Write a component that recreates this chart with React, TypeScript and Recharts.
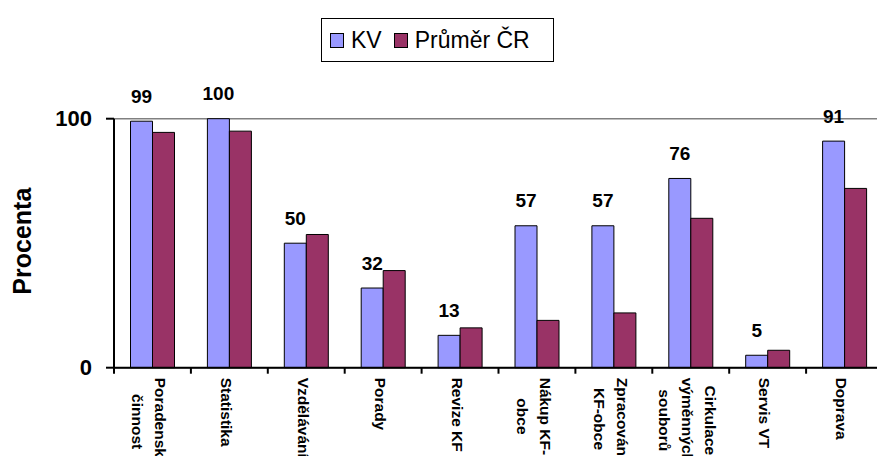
import React from "react";
import { BarChart, Bar, XAxis, YAxis, CartesianGrid, LabelList, Label, Legend } from "recharts";

// categories, "\n" = line break in the rotated axis label
const categories = [
  "Poradenská\nčinnost",
  "Statistika",
  "Vzdělávání",
  "Porady",
  "Revize KF",
  "Nákup KF-\nobce",
  "Zpracování\nKF-obce",
  "Cirkulace\nvýměnných\nsouborů",
  "Servis VT",
  "Doprava",
];
const kv = [99, 100, 50, 32, 13, 57, 57, 76, 5, 91];
const prumerCR = [94.5, 95, 53.5, 39, 16, 19, 22, 60, 7, 72];
const yTicks = [0, 100];

const data = categories.map((name, i) => ({ name, kv: kv[i], cr: prumerCR[i] }));

const FONT = '"Liberation Sans", Arial, sans-serif';
const W = 900;
const H = 456;
const M = { top: 118.7, right: 17, bottom: 0, left: 14 };
const Y_AXIS_W = 100;
const X_AXIS_H = 88.3;
const AXIS_Y = H - M.bottom - X_AXIS_H;
const PLOT_W = W - M.left - M.right - Y_AXIS_W;
const TICK_FONT = `bold 15.5px ${FONT}`;

let ctx: CanvasRenderingContext2D | null = null;
const textW = (s: string) => {
  if (!ctx && typeof document !== "undefined") ctx = document.createElement("canvas").getContext("2d");
  if (!ctx) return s.length * 8.5;
  ctx.font = TICK_FONT;
  return ctx.measureText(s).width;
};

const XTick = (props: any) => {
  const { x, payload, index } = props;
  const bw = PLOT_W / categories.length;
  const lines = String(payload.value).split("\n");
  const n = lines.length;
  const maxW = Math.max(...lines.map(textW));
  const top = AXIS_Y + 10;
  return (
    <g>
      <line x1={x - bw / 2} x2={x - bw / 2} y1={AXIS_Y} y2={AXIS_Y + 6} stroke="#000" strokeWidth={2} />
      {index === categories.length - 1 && (
        <line x1={x + bw / 2} x2={x + bw / 2} y1={AXIS_Y} y2={AXIS_Y + 6} stroke="#000" strokeWidth={2} />
      )}
      <text transform={`rotate(90, ${x}, ${top})`} fontFamily={FONT} fontWeight="bold" fontSize={15.5} fill="#000">
        {lines.map((l, i) => (
          <tspan key={i} x={x + maxW / 2} y={top + 8.5 - ((n - 1) / 2 - i) * 23} textAnchor="middle">
            {l}
          </tspan>
        ))}
      </text>
    </g>
  );
};

const YTick = (props: any) => (
  <text x={props.x} y={props.y} textAnchor="end" dominantBaseline="central" fontFamily={FONT} fontWeight="bold" fontSize={22} fill="#000">
    {props.payload.value}
  </text>
);

const renderValue = (p: any) => (
  <text x={p.x + p.width / 2} y={p.y - 18.5} textAnchor="middle" fontFamily={FONT} fontWeight="bold" fontSize={19} fill="#000">
    {p.value}
  </text>
);

const renderYLabel = (p: any) => {
  const vb = p.viewBox;
  const cx = vb.x + 8.5;
  const cy = vb.y + vb.height / 2 - 2;
  return (
    <text x={cx} y={cy} transform={`rotate(-90, ${cx}, ${cy})`} textAnchor="middle" dominantBaseline="central" fontFamily={FONT} fontWeight="bold" fontSize={25} fill="#000">
      Procenta
    </text>
  );
};

const renderLegend = (props: any) => (
  <div
    style={{
      width: 233,
      height: 44,
      boxSizing: "border-box",
      border: "1.5px solid #000",
      background: "#fff",
      display: "flex",
      alignItems: "center",
      paddingLeft: 8,
      fontFamily: FONT,
      fontSize: 23,
      color: "#000",
    }}
  >
    {(props.payload || []).map((e: any, i: number) => (
      <React.Fragment key={i}>
        <span
          style={{
            display: "inline-block",
            width: 14,
            height: 15,
            boxSizing: "border-box",
            border: "1.5px solid #000",
            background: e.color,
            marginRight: 7,
            marginLeft: i === 0 ? 0 : 12,
          }}
        />
        <span style={{ lineHeight: "23px" }}>{e.value}</span>
      </React.Fragment>
    ))}
  </div>
);

export default function App() {
  return (
    <div style={{ position: "absolute", left: 0, top: 0, width: 877, height: 456, overflow: "hidden", background: "#fff" }}>
      <BarChart width={W} height={H} data={data} margin={M} barCategoryGap={16.5} barGap={0}>
        <CartesianGrid vertical={false} stroke="#808080" strokeWidth={1.5} />
        <XAxis
          dataKey="name"
          interval={0}
          height={X_AXIS_H}
          axisLine={{ stroke: "#000", strokeWidth: 2 }}
          tickLine={false}
          tick={<XTick />}
        />
        <YAxis
          width={Y_AXIS_W}
          domain={[0, 100]}
          ticks={yTicks}
          tickSize={8}
          tickMargin={14}
          axisLine={{ stroke: "#000", strokeWidth: 2 }}
          tickLine={{ stroke: "#000", strokeWidth: 2 }}
          tick={<YTick />}
        >
          <Label content={renderYLabel} />
        </YAxis>
        <Legend
          layout="horizontal"
          verticalAlign="middle"
          align="center"
          content={renderLegend}
          wrapperStyle={{ left: 321, top: 18, width: "auto", height: "auto" }}
        />
        <Bar dataKey="kv" name="KV" fill="#9999FF" stroke="#000" strokeWidth={1} isAnimationActive={false}>
          <LabelList dataKey="kv" content={renderValue} />
        </Bar>
        <Bar dataKey="cr" name="Průměr ČR" fill="#993366" stroke="#000" strokeWidth={1} isAnimationActive={false} />
      </BarChart>
    </div>
  );
}
